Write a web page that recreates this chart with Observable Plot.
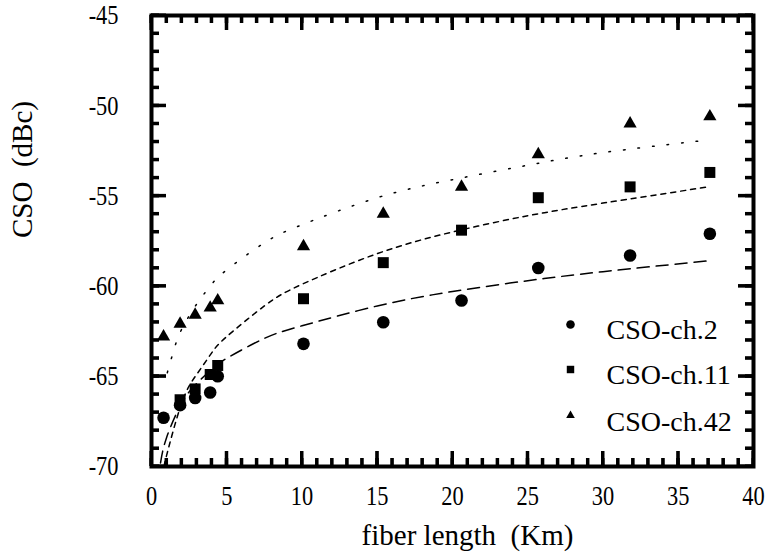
<!DOCTYPE html>
<html>
<head>
<meta charset="utf-8">
<script src="https://cdn.jsdelivr.net/npm/d3@7"></script>
<script src="https://cdn.jsdelivr.net/npm/@observablehq/plot@0.6"></script>
<style>
  html, body { margin: 0; padding: 0; background: #fff; }
</style>
</head>
<body>
<script>
// Measured fiber lengths (km)
const fiberKm = [0.8, 1.9, 2.9, 3.9, 4.4, 10.1, 15.4, 20.6, 25.7, 31.8, 37.1];

// CSO per channel (dBc); ch.11 has no reading at the first length
const csoCh2  = [-67.3, -66.6, -66.2, -65.9, -65.0, -63.2, -62.0, -60.8, -59.0, -58.3, -57.1];
const csoCh11 = [null, -66.3, -65.7, -64.9, -64.4, -60.7, -58.7, -56.9, -55.1, -54.5, -53.7];
const csoCh42 = [-62.8, -62.1, -61.6, -61.2, -60.8, -57.8, -56.0, -54.5, -52.7, -51.0, -50.6];

// Trend curves for each channel
const trendKm2  = [0.6, 1, 2, 3, 4, 5, 7.5, 10, 15, 20, 25, 30, 37];
const trendCh2  = [-69.8, -68.4, -66.5, -65.4, -64.6, -64.0, -62.9, -62.2, -61.1, -60.3, -59.7, -59.2, -58.6];
const trendKm11 = [0.9, 1, 2, 3, 4, 5, 7.5, 10, 15, 20, 25, 30, 37];
const trendCh11 = [-69.8, -69.4, -66.5, -64.9, -63.7, -62.8, -61.1, -59.9, -58.2, -57.0, -56.1, -55.4, -54.5];
const trendKm42 = [1.05, 1.5, 2, 3, 4, 5, 7.5, 10, 15, 20, 25, 30, 37];
const trendCh42 = [-64.8, -63.5, -62.4, -61.0, -59.9, -59.1, -57.6, -56.6, -55.1, -54.1, -53.3, -52.6, -51.9];

// Series names and legend entries
const seriesNames = ["CSO-ch.2", "CSO-ch.11", "CSO-ch.42"];

// Axis ticks
const xMajorTicks = [0, 5, 10, 15, 20, 25, 30, 35, 40];
const yMajorTicks = [-70, -65, -60, -55, -50, -45];
const xMinorTicks = d3.range(0, 41, 1);
const yMinorTicks = d3.range(-70, -44, 1);

const xTitle = "fiber length  (Km)";
const yTitle = "CSO  (dBc)";

const serif = "Liberation Serif, Times New Roman, serif";

const W = 770, H = 554;
const M = {left: 151, right: 17, top: 15, bottom: 88};
const innerW = W - M.left - M.right;
const innerH = H - M.top - M.bottom;

function points(xs, ys) {
  return xs.map((x, i) => ({km: x, cso: ys[i]})).filter(d => d.cso != null);
}

const symbols = ["circle", "square", "triangle"];
const dotR = [6.3, 6.2, 4.9];
const legendR = [4.3, 4.2, 3.2];
const measured = [csoCh2, csoCh11, csoCh42];
const trends = [[trendKm2, trendCh2, "12,7"], [trendKm11, trendCh11, "5,5"], [trendKm42, trendCh42, "1.6,13"]];

const marks = [];

// Tick labels
const plain = d => String(d);
marks.push(Plot.axisX(xMajorTicks, {anchor: "bottom", tickSize: 0, tickPadding: 19, fontSize: 28, tickFormat: plain, label: null}));
marks.push(Plot.axisY(yMajorTicks, {anchor: "left", tickSize: 0, tickPadding: 33, fontSize: 28, tickFormat: plain, label: null}));

// Axis titles
marks.push(Plot.text([xTitle], {frameAnchor: "bottom", dx: 15, dy: 78, fontSize: 29, ariaLabel: "x-title"}));
marks.push(Plot.text([yTitle], {frameAnchor: "left", dx: -129, dy: -3, rotate: -90, fontSize: 29, ariaLabel: "y-title"}));

// Trend curves
for (const [xs, ys, dash] of trends) {
  marks.push(Plot.line(points(xs, ys), {x: "km", y: "cso", curve: "natural", stroke: "black", strokeWidth: 1.5, strokeDasharray: dash}));
}

// Measurements
measured.forEach((ys, i) => {
  marks.push(Plot.dot(points(fiberKm, ys), {x: "km", y: "cso", symbol: () => symbols[i], r: dotR[i], fill: "black", stroke: "none"}));
});

// Legend
const legendTop = [324, 369, 415];
const textTop = [319, 364, 411];
seriesNames.forEach((name, i) => {
  marks.push(Plot.dot([name], {frameAnchor: "top-left", dx: 570 - M.left, dy: legendTop[i] - M.top, symbol: () => symbols[i], r: legendR[i], fill: "black", stroke: "none"}));
  marks.push(Plot.text([name], {frameAnchor: "top-left", dx: 606 - M.left, dy: textTop[i] - M.top, textAnchor: "start", fontSize: 28}));
});

// Frame
marks.push(Plot.frame({stroke: "black", strokeWidth: 4}));

// Ticks pointing into the frame on all four sides, as thin filled bars plus strokes
const tickStyle = {stroke: "black", strokeWidth: 3};
for (const [ticks, size] of [[xMinorTicks, 8], [xMajorTicks, 15]]) {
  marks.push(Plot.rect(ticks, {x1: d => d, x2: d => d, insetLeft: -1.5, insetRight: -1.5, insetTop: innerH - size, fill: "black"}));
  marks.push(Plot.rect(ticks, {x1: d => d, x2: d => d, insetLeft: -1.5, insetRight: -1.5, insetBottom: innerH - size, fill: "black"}));
  marks.push(Plot.tickX(ticks, {x: d => d, insetTop: innerH - size, ...tickStyle}));
  marks.push(Plot.tickX(ticks, {x: d => d, insetBottom: innerH - size, ...tickStyle}));
}
for (const [ticks, size] of [[yMinorTicks, 8], [yMajorTicks, 15]]) {
  marks.push(Plot.rect(ticks, {y1: d => d, y2: d => d, insetTop: -1.5, insetBottom: -1.5, insetRight: innerW - size, fill: "black"}));
  marks.push(Plot.rect(ticks, {y1: d => d, y2: d => d, insetTop: -1.5, insetBottom: -1.5, insetLeft: innerW - size, fill: "black"}));
  marks.push(Plot.tickY(ticks, {y: d => d, insetRight: innerW - size, ...tickStyle}));
  marks.push(Plot.tickY(ticks, {y: d => d, insetLeft: innerW - size, ...tickStyle}));
}

const chart = Plot.plot({
  width: W,
  height: H,
  marginLeft: M.left,
  marginRight: M.right,
  marginTop: M.top,
  marginBottom: M.bottom,
  x: {domain: [0, 40]},
  y: {domain: [-70, -45]},
  style: {fontFamily: serif, background: "white", color: "black", overflow: "visible"},
  marks
});

// Narrow the axis lettering
const plainNumber = /^-?\d+(\.\d+)?$/;
function condense(selector, s) {
  chart.querySelectorAll(selector).forEach(t => {
    const tr = t.getAttribute("transform") || "";
    const xa = t.getAttribute("x"), ya = t.getAttribute("y");
    const xn = xa != null && plainNumber.test(xa);
    const yn = ya != null && plainNumber.test(ya);
    let pre = "";
    if (xn || yn) {
      pre = ` translate(${xn ? xa : 0},${yn ? ya : 0})`;
      if (xn) t.removeAttribute("x");
      if (yn) t.removeAttribute("y");
    }
    t.setAttribute("transform", `${tr}${pre} scale(${s},1)`);
  });
}
condense('g[aria-label="x-axis tick label"] text', 0.8);
condense('g[aria-label="y-axis tick label"] text', 0.8);
condense('g[aria-label="x-title"] text', 0.76);
condense('g[aria-label="y-title"] text', 0.76);

document.body.appendChild(chart);
</script>
</body>
</html>
